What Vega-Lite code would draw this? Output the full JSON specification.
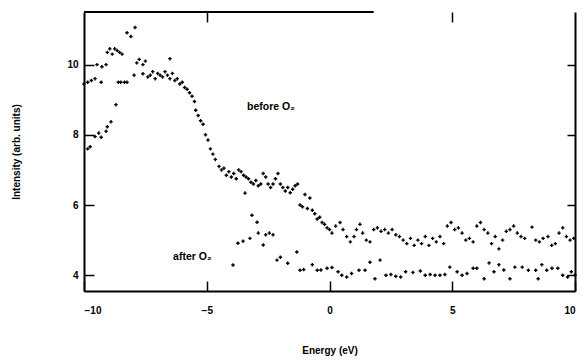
{
  "$schema": "https://vega.github.io/schema/vega-lite/v6.json",
  "width": 491,
  "height": 279,
  "autosize": "none",
  "padding": {"left": 84, "top": 12, "right": 10, "bottom": 70},
  "background": "white",
  "config": {
    "view": {"stroke": null},
    "font": "Liberation Sans",
    "axis": {
      "domainColor": "black", "domainWidth": 2, "tickColor": "black", "tickWidth": 1.5,
      "grid": false, "labelColor": "black", "titleColor": "black",
      "labelFont": "Liberation Sans", "labelFontSize": 10, "labelFontWeight": "bold",
      "titleFont": "Liberation Sans", "titleFontSize": 10, "titleFontWeight": "bold"
    }
  },
  "datasets": {
    "spectra": [
      {"s":"before","e":-10.0,"i":9.45},{"s":"before","e":-9.85,"i":9.5},{"s":"before","e":-9.7,"i":9.55},{"s":"before","e":-9.55,"i":9.6},{"s":"before","e":-9.3,"i":9.5},
      {"s":"before","e":-8.6,"i":9.5},{"s":"before","e":-8.5,"i":9.5},{"s":"before","e":-8.35,"i":9.5},{"s":"before","e":-8.25,"i":9.5},{"s":"before","e":-7.96,"i":9.7},{"s":"before","e":-7.6,"i":9.74},
      {"s":"before","e":-7.4,"i":9.65},{"s":"before","e":-7.3,"i":9.7},{"s":"before","e":-7.2,"i":9.8},{"s":"before","e":-7.1,"i":9.6},{"s":"before","e":-7.0,"i":9.75},{"s":"before","e":-6.9,"i":9.7},{"s":"before","e":-6.8,"i":9.65},{"s":"before","e":-6.7,"i":9.8},{"s":"before","e":-6.6,"i":9.7},{"s":"before","e":-6.5,"i":9.6},{"s":"before","e":-6.4,"i":9.75},{"s":"before","e":-6.3,"i":9.55},{"s":"before","e":-6.2,"i":9.6},{"s":"before","e":-6.1,"i":9.45},{"s":"before","e":-6.0,"i":9.5},{"s":"before","e":-5.9,"i":9.35},{"s":"before","e":-5.8,"i":9.3},{"s":"before","e":-5.7,"i":9.2},{"s":"before","e":-5.6,"i":9.1},{"s":"before","e":-5.5,"i":8.95},{"s":"before","e":-5.45,"i":8.7},{"s":"before","e":-5.35,"i":8.55},{"s":"before","e":-5.25,"i":8.4},{"s":"before","e":-5.15,"i":8.3},{"s":"before","e":-5.05,"i":8.0},{"s":"before","e":-4.95,"i":7.85},{"s":"before","e":-4.85,"i":7.6},{"s":"before","e":-4.75,"i":7.45},{"s":"before","e":-4.65,"i":7.3},{"s":"before","e":-4.5,"i":7.1},{"s":"before","e":-4.4,"i":7.0},{"s":"before","e":-4.3,"i":7.05},{"s":"before","e":-4.2,"i":6.85},{"s":"before","e":-4.1,"i":6.95},{"s":"before","e":-4.0,"i":6.8},{"s":"before","e":-3.9,"i":6.9},{"s":"before","e":-3.8,"i":6.75},{"s":"before","e":-3.7,"i":7.0},{"s":"before","e":-3.6,"i":6.95},{"s":"before","e":-3.5,"i":6.85},{"s":"before","e":-3.44,"i":6.34},{"s":"before","e":-3.4,"i":6.8},{"s":"before","e":-3.3,"i":6.75},{"s":"before","e":-3.2,"i":6.65},{"s":"before","e":-3.1,"i":6.6},{"s":"before","e":-3.0,"i":6.7},{"s":"before","e":-2.9,"i":6.55},{"s":"before","e":-2.8,"i":6.6},{"s":"before","e":-2.7,"i":6.9},{"s":"before","e":-2.6,"i":6.8},{"s":"before","e":-2.5,"i":6.6},{"s":"before","e":-2.4,"i":6.5},{"s":"before","e":-2.3,"i":6.6},{"s":"before","e":-2.2,"i":6.75},{"s":"before","e":-2.1,"i":6.9},{"s":"before","e":-2.0,"i":6.6},{"s":"before","e":-1.9,"i":6.5},{"s":"before","e":-1.8,"i":6.4},{"s":"before","e":-1.7,"i":6.5},{"s":"before","e":-1.6,"i":6.35},{"s":"before","e":-1.5,"i":6.45},{"s":"before","e":-1.4,"i":6.55},{"s":"before","e":-1.3,"i":6.6},{"s":"before","e":-1.2,"i":6.0},{"s":"before","e":-1.1,"i":5.95},{"s":"before","e":-1.0,"i":6.3},{"s":"before","e":-0.9,"i":5.9},{"s":"before","e":-0.8,"i":6.2},{"s":"before","e":-0.7,"i":5.85},{"s":"before","e":-0.6,"i":5.75},{"s":"before","e":-0.5,"i":5.6},{"s":"before","e":-0.4,"i":5.65},{"s":"before","e":-0.3,"i":5.5},{"s":"before","e":-0.2,"i":5.45},{"s":"before","e":-0.1,"i":5.35},{"s":"before","e":0.0,"i":5.3},{"s":"before","e":0.1,"i":5.2},{"s":"before","e":0.25,"i":5.4},{"s":"before","e":0.43,"i":5.5},{"s":"before","e":0.55,"i":5.3},{"s":"before","e":0.7,"i":5.1},{"s":"before","e":0.85,"i":4.95},{"s":"before","e":1.0,"i":5.1},{"s":"before","e":1.1,"i":5.3},{"s":"before","e":1.24,"i":5.45},{"s":"before","e":1.35,"i":5.2},{"s":"before","e":1.5,"i":5.0},{"s":"before","e":1.65,"i":4.95},{"s":"before","e":1.8,"i":5.3},{"s":"before","e":1.95,"i":5.35},{"s":"before","e":2.1,"i":5.25},{"s":"before","e":2.25,"i":5.3},{"s":"before","e":2.4,"i":5.2},{"s":"before","e":2.55,"i":5.3},{"s":"before","e":2.7,"i":5.15},{"s":"before","e":2.85,"i":5.1},{"s":"before","e":3.0,"i":5.0},{"s":"before","e":3.15,"i":4.9},{"s":"before","e":3.3,"i":5.05},{"s":"before","e":3.45,"i":4.85},{"s":"before","e":3.6,"i":5.0},{"s":"before","e":3.75,"i":4.9},{"s":"before","e":3.9,"i":5.1},{"s":"before","e":4.05,"i":4.85},{"s":"before","e":4.2,"i":5.05},{"s":"before","e":4.35,"i":4.95},{"s":"before","e":4.5,"i":5.1},{"s":"before","e":4.65,"i":4.9},{"s":"before","e":4.8,"i":5.4},{"s":"before","e":4.95,"i":5.5},{"s":"before","e":5.1,"i":5.3},{"s":"before","e":5.25,"i":5.35},{"s":"before","e":5.4,"i":5.2},{"s":"before","e":5.55,"i":5.0},{"s":"before","e":5.7,"i":5.05},{"s":"before","e":5.85,"i":4.95},{"s":"before","e":6.0,"i":5.4},{"s":"before","e":6.15,"i":5.5},{"s":"before","e":6.3,"i":5.3},{"s":"before","e":6.45,"i":5.2},{"s":"before","e":6.6,"i":4.9},{"s":"before","e":6.75,"i":5.1},{"s":"before","e":6.9,"i":4.75},{"s":"before","e":7.05,"i":5.0},{"s":"before","e":7.2,"i":5.25},{"s":"before","e":7.35,"i":5.3},{"s":"before","e":7.5,"i":5.4},{"s":"before","e":7.65,"i":5.2},{"s":"before","e":7.8,"i":5.1},{"s":"before","e":7.95,"i":5.05},{"s":"before","e":8.25,"i":5.37},{"s":"before","e":8.4,"i":5.0},{"s":"before","e":8.55,"i":4.95},{"s":"before","e":8.7,"i":5.05},{"s":"before","e":8.9,"i":5.1},{"s":"before","e":9.05,"i":4.85},{"s":"before","e":9.2,"i":4.9},{"s":"before","e":9.35,"i":5.2},{"s":"before","e":9.5,"i":5.35},{"s":"before","e":9.65,"i":5.1},{"s":"before","e":9.8,"i":5.0},{"s":"before","e":9.95,"i":5.05},
      {"s":"after","e":-9.85,"i":7.6},{"s":"after","e":-9.75,"i":7.66},{"s":"after","e":-9.55,"i":7.95},{"s":"after","e":-9.4,"i":8.05},{"s":"after","e":-9.3,"i":7.93},{"s":"after","e":-9.1,"i":8.1},{"s":"after","e":-9.05,"i":8.23},{"s":"after","e":-8.9,"i":8.37},{"s":"after","e":-8.7,"i":8.86},{"s":"after","e":-9.47,"i":10.0},{"s":"after","e":-9.27,"i":9.94},{"s":"after","e":-9.1,"i":10.0},{"s":"after","e":-9.05,"i":10.35},{"s":"after","e":-8.95,"i":10.45},{"s":"after","e":-8.85,"i":10.3},{"s":"after","e":-8.75,"i":10.45},{"s":"after","e":-8.65,"i":10.4},{"s":"after","e":-8.55,"i":10.35},{"s":"after","e":-8.45,"i":10.3},{"s":"after","e":-8.25,"i":10.91},{"s":"after","e":-8.09,"i":10.8},{"s":"after","e":-7.92,"i":11.06},{"s":"after","e":-7.85,"i":10.05},{"s":"after","e":-7.75,"i":10.15},{"s":"after","e":-7.6,"i":10.0},{"s":"after","e":-7.5,"i":10.1},{"s":"after","e":-6.5,"i":10.17},
      {"s":"after","e":-3.93,"i":4.29},{"s":"after","e":-3.73,"i":4.91},{"s":"after","e":-3.52,"i":4.97},{"s":"after","e":-3.24,"i":5.05},{"s":"after","e":-3.16,"i":5.71},{"s":"after","e":-2.95,"i":5.51},{"s":"after","e":-2.9,"i":5.2},{"s":"after","e":-2.7,"i":4.86},{"s":"after","e":-2.6,"i":5.15},{"s":"after","e":-2.45,"i":5.2},{"s":"after","e":-2.3,"i":5.15},{"s":"after","e":-2.14,"i":4.43},{"s":"after","e":-2.0,"i":4.51},{"s":"after","e":-1.7,"i":4.34},{"s":"after","e":-1.33,"i":4.66},{"s":"after","e":-1.2,"i":4.14},{"s":"after","e":-1.05,"i":4.16},{"s":"after","e":-0.7,"i":4.3},{"s":"after","e":-0.5,"i":4.14},{"s":"after","e":-0.35,"i":4.15},{"s":"after","e":-0.1,"i":4.2},{"s":"after","e":0.1,"i":4.22},{"s":"after","e":0.35,"i":4.1},{"s":"after","e":0.5,"i":4.0},{"s":"after","e":0.7,"i":3.95},{"s":"after","e":0.9,"i":4.05},{"s":"after","e":1.2,"i":4.14},{"s":"after","e":1.45,"i":4.14},{"s":"after","e":1.65,"i":4.37},{"s":"after","e":1.85,"i":3.9},{"s":"after","e":2.06,"i":4.43},{"s":"after","e":2.3,"i":4.0},{"s":"after","e":2.5,"i":4.02},{"s":"after","e":2.7,"i":3.97},{"s":"after","e":2.9,"i":3.95},{"s":"after","e":3.1,"i":4.1},{"s":"after","e":3.4,"i":4.08},{"s":"after","e":3.7,"i":4.12},{"s":"after","e":3.9,"i":4.0},{"s":"after","e":4.1,"i":4.02},{"s":"after","e":4.3,"i":4.0},{"s":"after","e":4.5,"i":4.0},{"s":"after","e":4.7,"i":4.02},{"s":"after","e":4.9,"i":4.23},{"s":"after","e":5.2,"i":4.1},{"s":"after","e":5.4,"i":4.0},{"s":"after","e":5.6,"i":4.05},{"s":"after","e":5.85,"i":4.2},{"s":"after","e":6.0,"i":4.2},{"s":"after","e":6.3,"i":3.9},{"s":"after","e":6.5,"i":4.35},{"s":"after","e":6.7,"i":4.1},{"s":"after","e":6.9,"i":4.3},{"s":"after","e":7.1,"i":4.15},{"s":"after","e":7.35,"i":3.9},{"s":"after","e":7.55,"i":4.23},{"s":"after","e":7.85,"i":4.23},{"s":"after","e":8.1,"i":4.14},{"s":"after","e":8.4,"i":4.14},{"s":"after","e":8.5,"i":3.9},{"s":"after","e":8.65,"i":4.3},{"s":"after","e":8.85,"i":4.14},{"s":"after","e":9.06,"i":4.2},{"s":"after","e":9.3,"i":4.2},{"s":"after","e":9.5,"i":4.0},{"s":"after","e":9.7,"i":3.95},{"s":"after","e":9.85,"i":4.1},{"s":"after","e":10.0,"i":4.0}
    ],
    "labels": [
      {"e": -3.36, "i": 8.8, "t": "before O₂"},
      {"e": -6.37, "i": 4.51, "t": "after O₂"}
    ]
  },
  "layer": [
    {
      "data": {"name": "spectra"},
      "mark": {"type": "point", "shape": "cross", "filled": true, "color": "black", "size": 12, "opacity": 1},
      "encoding": {
        "x": {"field": "e", "type": "quantitative", "scale": {"domain": [-10, 10], "nice": false, "zero": false},
          "axis": {"orient": "bottom", "title": "Energy (eV)", "values": [-10, -5, 0, 5, 10], "tickSize": -10, "labelPadding": 24, "titlePadding": 30}},
        "y": {"field": "i", "type": "quantitative", "scale": {"domain": [3.55, 11.5], "nice": false, "zero": false},
          "axis": {"orient": "left", "title": "Intensity (arb. units)", "values": [4, 6, 8, 10], "tickSize": -10, "labelPadding": 16, "titlePadding": 45}}
      }
    },
    {
      "data": {"name": "labels"},
      "mark": {"type": "text", "align": "left", "baseline": "middle", "font": "Liberation Sans", "fontSize": 10.5, "fontWeight": "bold", "color": "black"},
      "encoding": {
        "x": {"field": "e", "type": "quantitative", "axis": {"orient": "top", "title": null, "labels": false, "domain": false, "values": [-5, 5], "tickSize": -10}},
        "y": {"field": "i", "type": "quantitative", "axis": {"orient": "right", "title": null, "labels": false, "values": [4, 6, 8, 10], "tickSize": -8}},
        "text": {"field": "t"}
      }
    },
    {
      "data": {"values": [{}]},
      "mark": {"type": "rule", "color": "black", "strokeWidth": 2},
      "encoding": {
        "x": {"datum": -10, "type": "quantitative", "axis": null},
        "x2": {"datum": 1.8},
        "y": {"datum": 11.5, "type": "quantitative", "axis": null}
      }
    }
  ],
  "resolve": {"axis": {"x": "independent", "y": "independent"}}
}
